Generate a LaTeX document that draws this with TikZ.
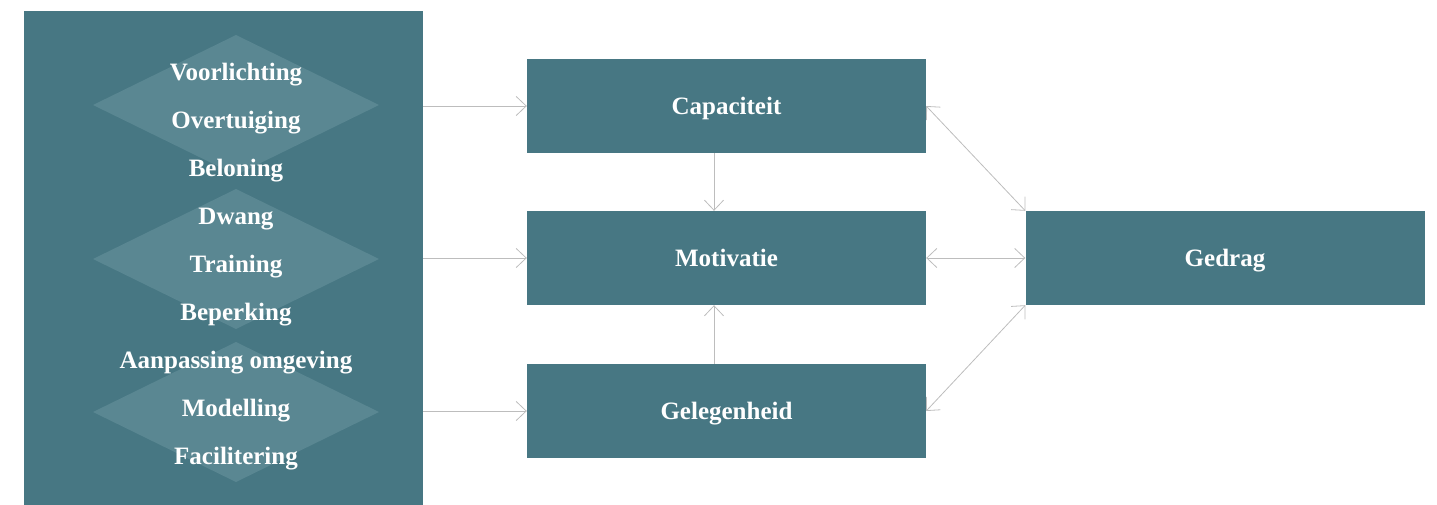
\documentclass[tikz,border=0pt]{standalone}
\usepackage{fontspec}
\setmainfont{Liberation Serif}
\usetikzlibrary{arrows.meta,positioning}

\definecolor{teal}{HTML}{477783}
\definecolor{lightteal}{HTML}{5A8792}
\definecolor{arrowgray}{HTML}{BDBDBD}

\begin{document}
\begin{tikzpicture}[
  x=1pt, y=-1pt,
  box/.style={fill=teal, text=white, minimum width=399pt, minimum height=94pt,
    inner sep=0pt, text height=17pt, text depth=0pt,
    font=\fontsize{25}{29}\selectfont\bfseries},
  item/.style={text=white, inner sep=0pt, text height=17pt, text depth=0pt,
    font=\fontsize{25}{29}\selectfont\bfseries},
  arr/.style={draw=arrowgray, line width=0.8pt,
    -{Straight Barb[length=10pt, width=19pt, line width=0.8pt]}},
  arrboth/.style={arr, {Straight Barb[length=10pt, width=19pt, line width=0.8pt]}-{Straight Barb[length=10pt, width=19pt, line width=0.8pt]}},
]
\useasboundingbox (0,0) rectangle (1437,505);

% left panel with the measures
\node[fill=teal, minimum width=399pt, minimum height=494pt, inner sep=0pt]
  (panel) at (223.5,258) {};
\foreach \cy in {105,259,412}
  \fill[lightteal] (236,\cy-70) -- (379,\cy) -- (236,\cy+70) -- (93,\cy) -- cycle;
\foreach \txt [count=\i] in {Voorlichting, Overtuiging, Beloning, Dwang, Training,
    Beperking, Aanpassing omgeving, Modelling, Facilitering}
  \node[item] (m\i) at (236,{72+48*(\i-1)}) {\txt};

% sources of behaviour
\node[box] (cap) at (726.5,106) {Capaciteit};
\node[box] (mot) at (726.5,258) {Motivatie};
\node[box] (gel) at (726.5,411) {Gelegenheid};
\node[box] (ged) at (1225,258) {Gedrag};

\draw[arr] (panel.east |- cap.west) -- (cap.west);
\draw[arr] (panel.east |- mot.west) -- (mot.west);
\draw[arr] (panel.east |- gel.west) -- (gel.west);
\draw[arr] ([xshift=-12.5pt]cap.south) -- ([xshift=-12.5pt]mot.north);
\draw[arr] ([xshift=-12.5pt]gel.north) -- ([xshift=-12.5pt]mot.south);

\draw[arrboth] (cap.east) -- (ged.north west);
\draw[arrboth] (mot.east) -- (ged.west);
\draw[arrboth] (gel.east) -- (ged.south west);
\end{tikzpicture}
\end{document}
